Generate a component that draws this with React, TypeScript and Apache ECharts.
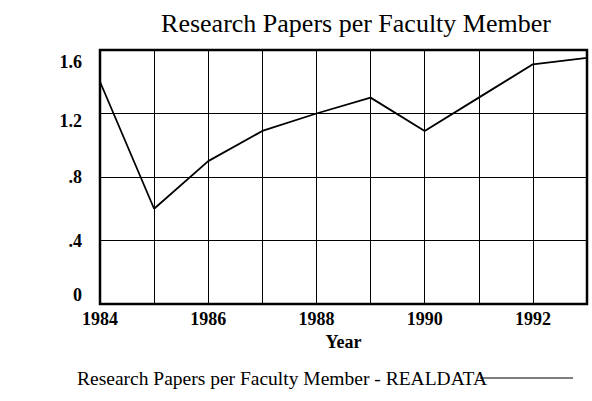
import React, { useEffect, useRef } from "react";
import * as echarts from "echarts";

const titleText = "Research Papers per Faculty Member";
const legendText = "Research Papers per Faculty Member - REALDATA";
const xAxisName = "Year";
const years = [1984, 1985, 1986, 1987, 1988, 1989, 1990, 1991, 1992, 1993];
const papersPerFaculty = [1.4, 0.6, 0.9, 1.09, 1.2, 1.3, 1.09, 1.3, 1.51, 1.55];
const yTicks = [0, 0.4, 0.8, 1.2, 1.6];
const yTickLabels = ["0", ".4", ".8", "1.2", "1.6"];
const yLabelStyles = ["lo", "mid", "mid", "hi2", "hi1"];

const FONT = "'Liberation Serif', 'Times New Roman', serif";

export default function App() {
  const ref = useRef<HTMLDivElement>(null);
  useEffect(() => {
    if (!ref.current) return;
    const chart = echarts.init(ref.current, null, { renderer: "svg" });
    const labelBase = { fontFamily: FONT, fontSize: 18, fontWeight: "bold", color: "#000" };
    chart.setOption({
      animation: false,
      backgroundColor: "#ffffff",
      title: {
        text: titleText,
        left: 351,
        textAlign: "center",
        top: 5,
        textStyle: { fontFamily: FONT, fontSize: 26, fontWeight: "normal", color: "#000" },
      },
      grid: {
        left: 100,
        right: 5,
        top: 50,
        bottom: 97,
        show: true,
        borderColor: "#000",
        borderWidth: 2.5,
        backgroundColor: "transparent",
      },
      xAxis: {
        type: "value",
        min: years[0],
        max: years[years.length - 1],
        interval: 1,
        name: xAxisName,
        nameLocation: "middle",
        nameGap: 29,
        nameTextStyle: { fontFamily: FONT, fontSize: 18, fontWeight: "bold", color: "#000" },
        axisLine: { show: false },
        axisTick: { show: false },
        splitLine: { show: true, lineStyle: { color: "#000", width: 1 } },
        axisLabel: {
          ...labelBase,
          margin: 6,
          showMaxLabel: true,
          formatter: (v: number) => (v % 2 === 0 && v < 1993 ? String(v) : ""),
        },
      },
      yAxis: {
        type: "value",
        min: yTicks[0],
        max: yTicks[yTicks.length - 1],
        interval: 0.4,
        axisLine: { show: false },
        axisTick: { show: false },
        splitLine: { show: true, lineStyle: { color: "#000", width: 1 } },
        axisLabel: {
          ...labelBase,
          margin: 18,
          formatter: (v: number) => {
            const i = yTicks.findIndex((t) => Math.abs(t - v) < 1e-6);
            return i >= 0 ? `{${yLabelStyles[i]}|${yTickLabels[i]}}` : "";
          },
          rich: {
            lo: { ...labelBase, padding: [0, 0, 18, 0] },
            mid: { ...labelBase },
            hi2: { ...labelBase, padding: [14, 0, 0, 0] },
            hi1: { ...labelBase, padding: [24, 0, 0, 0] },
          },
        },
      },
      series: [
        {
          type: "line",
          data: years.map((y, i) => [y, papersPerFaculty[i]]),
          symbol: "none",
          lineStyle: { color: "#000", width: 1.8 },
        },
      ],
      graphic: [
        {
          type: "text",
          left: 77,
          top: 368,
          style: { text: legendText, fontFamily: FONT, fontSize: 19.5, fill: "#000" },
        },
        {
          type: "line",
          shape: { x1: 480, y1: 378, x2: 573, y2: 378 },
          style: { stroke: "#000", lineWidth: 1.2 },
        },
      ],
    });
    return () => chart.dispose();
  }, []);
  return <div ref={ref} style={{ width: 592, height: 401, position: "absolute", left: 0, top: 0 }} />;
}
